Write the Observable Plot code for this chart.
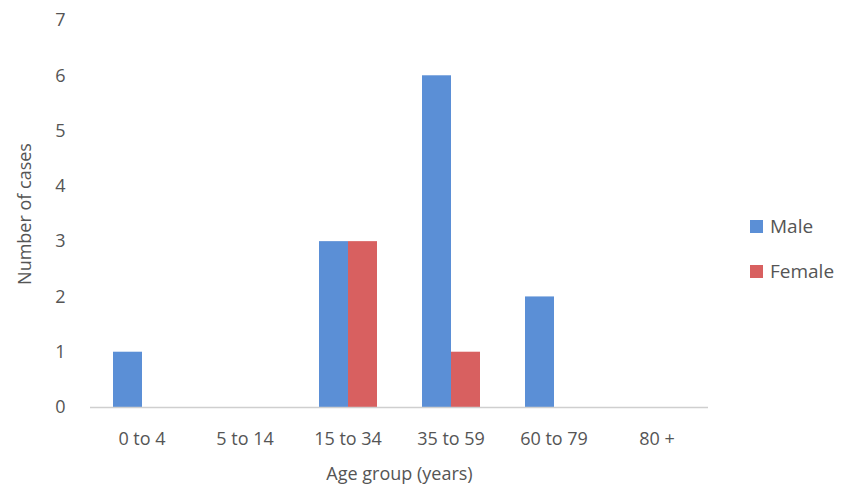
<!DOCTYPE html>
<html><head><meta charset="utf-8">
<script src="https://cdn.jsdelivr.net/npm/d3@7"></script>
<script src="https://cdn.jsdelivr.net/npm/@observablehq/plot@0.6"></script>
<style>
body{margin:0;background:#fff;font-family:"Open Sans",sans-serif;}
#wrap{position:relative;width:852px;height:495px;}
.lg{position:absolute;left:750px;font-size:19px;color:#555;display:flex;align-items:center;}
.sw{width:13px;height:13px;margin-right:7px;display:inline-block;}
</style></head>
<body><div id="wrap"><div id="chart"></div>
<div class="lg" style="top:213px"><span class="sw" style="background:#5b8fd6"></span>Male</div>
<div class="lg" style="top:258px"><span class="sw" style="background:#d86060"></span>Female</div>
</div>
<script>
const ageGroups = ["0 to 4", "5 to 14", "15 to 34", "35 to 59", "60 to 79", "80 +"];
const male = [1, 0, 3, 6, 2, 0];
const female = [0, 0, 3, 1, 0, 0];
const sexes = ["Male", "Female"];

const rows = [];
ageGroups.forEach((g, i) => {
  rows.push({age: g, sex: "Male", n: male[i]});
  rows.push({age: g, sex: "Female", n: female[i]});
});

const chart = Plot.plot({
  width: 852, height: 495,
  marginLeft: 88, marginRight: 142, marginTop: 20, marginBottom: 88,
  style: {fontFamily: "Open Sans", fontSize: "21px", color: "#555"},
  fx: {domain: ageGroups, padding: 0},
  x: {domain: sexes, paddingInner: 0, paddingOuter: 0.73, axis: null},
  y: {domain: [0, 7], ticks: 7},
  color: {domain: sexes, range: ["#5b8fd6", "#d86060"]},
  marks: [
    Plot.axisY({ticks: 7, tickSize: 0, tickPadding: 25, label: "Number of cases", labelAnchor: "center", labelArrow: "none", labelOffset: 72, fontSize: 18}),
    Plot.axisFx({anchor: "bottom", tickSize: 0, tickPadding: 25, label: "Age group (years)", labelAnchor: "center", labelArrow: "none", labelOffset: 72, fontSize: 18}),
    Plot.barY(rows, {fx: "age", x: "sex", y: "n", fill: "sex"}),
    Plot.ruleY([0], {stroke: "#cfcfcf", strokeWidth: 1.5})
  ]
});
document.getElementById("chart").append(chart);
</script></body></html>
